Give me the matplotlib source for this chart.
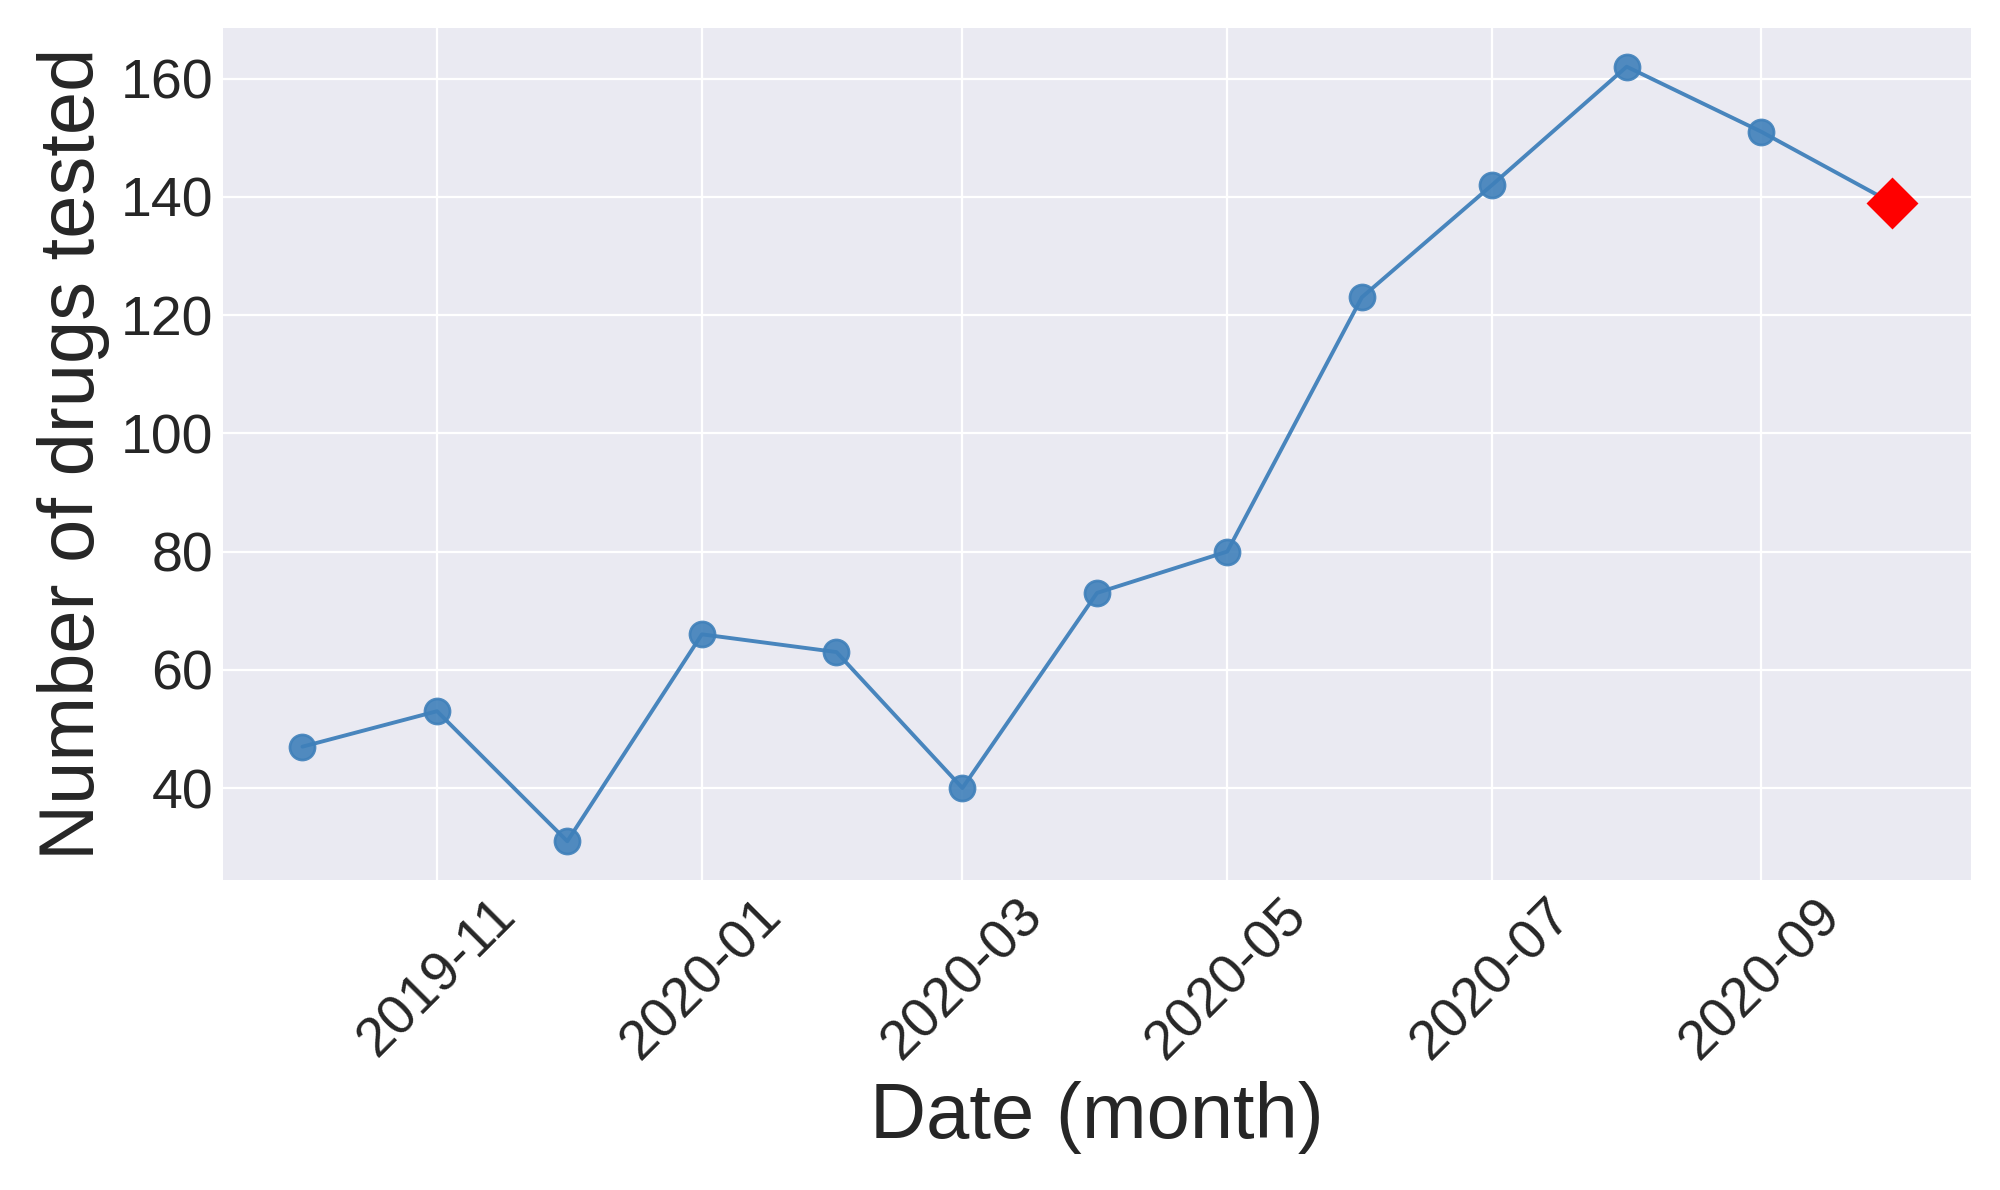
import pandas as pd
import matplotlib
matplotlib.use('Agg')
import matplotlib.pyplot as plt
import matplotlib.dates as mdates
from matplotlib.ticker import MultipleLocator

months = ['2019-10', '2019-11', '2019-12', '2020-01', '2020-02', '2020-03', '2020-04',
          '2020-05', '2020-06', '2020-07', '2020-08', '2020-09', '2020-10']
n_drugs = [47, 53, 31, 66, 63, 40, 73, 80, 123, 142, 162, 151, 139]

plt.style.use('seaborn-v0_8-darkgrid')
plt.rcParams['font.family'] = ['Liberation Sans', 'DejaVu Sans']

dates = pd.to_datetime(months)

fig, ax = plt.subplots(figsize=(10, 5.95), dpi=200)
fig.subplots_adjust(left=0.1115, right=0.9855, top=0.9765, bottom=0.2605)

ax.plot(dates, n_drugs, color='#3f80ba', lw=1.4, alpha=0.95)
ax.plot(dates[:-1], n_drugs[:-1], 'o', color='#3f80ba', ms=9, alpha=0.9)
ax.plot(dates[-1:], n_drugs[-1:], 'D', color='red', ms=12)

ax.xaxis.set_major_locator(mdates.MonthLocator(bymonth=[1, 3, 5, 7, 9, 11]))
ax.xaxis.set_major_formatter(mdates.DateFormatter('%Y-%m'))
ax.yaxis.set_major_locator(MultipleLocator(20))
plt.setp(ax.get_xticklabels(), rotation=45)
ax.tick_params(labelsize=20)

ax.set_xlabel('Date (month)', fontsize=28)
ax.set_ylabel('Number of drugs tested', fontsize=28)

plt.savefig('out.png', dpi=200)
